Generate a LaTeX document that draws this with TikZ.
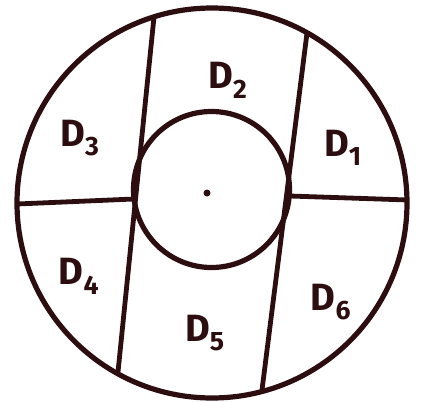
\documentclass[tikz,border=0pt]{standalone}
\usepackage{fontspec}
\setsansfont{Fira Sans}
\usepackage{tikz}
\usetikzlibrary{calc}
\definecolor{ink}{RGB}{45, 14, 16}

\begin{document}
\begin{tikzpicture}[
    x=1pt, y=-1pt,
    % Define styles
    rim/.style = {draw=ink, line width=5.2pt},
    cut/.style = {draw=ink, line width=4.8pt},
    region/.style = {text=ink, font=\fontsize{38}{38}\selectfont\sffamily\bfseries, inner sep=0pt}
]
\useasboundingbox (0,0) rectangle (424,402);

% Circles
\draw [rim] (212,203) circle [radius=195];
\draw [rim] (211.5,189.5) circle [radius=78];
\fill [ink] (207,193) circle [radius=3.5];

% Cuts
\coordinate (lt) at (154,17);
\coordinate (lb) at (118,372);
\coordinate (rt) at (307,33);
\coordinate (rb) at (262,390);
\coordinate (hl) at (17,204);
\coordinate (hr) at (408,200);
\draw [cut] (lt) -- (lb);
\draw [cut] (rt) -- (rb);
\draw [cut] (hl) -- (134,199);
\draw [cut] (290,196) -- (hr);

% Nodes
\node [region] (d1) at (343,148) {D\textsubscript{1}};
\node [region] (d2) at (228,80) {D\textsubscript{2}};
\node [region] (d3) at (80,138) {D\textsubscript{3}};
\node [region] (d4) at (79,276) {D\textsubscript{4}};
\node [region] (d5) at (205,333) {D\textsubscript{5}};
\node [region] (d6) at (331,302) {D\textsubscript{6}};

\end{tikzpicture}
\end{document}
